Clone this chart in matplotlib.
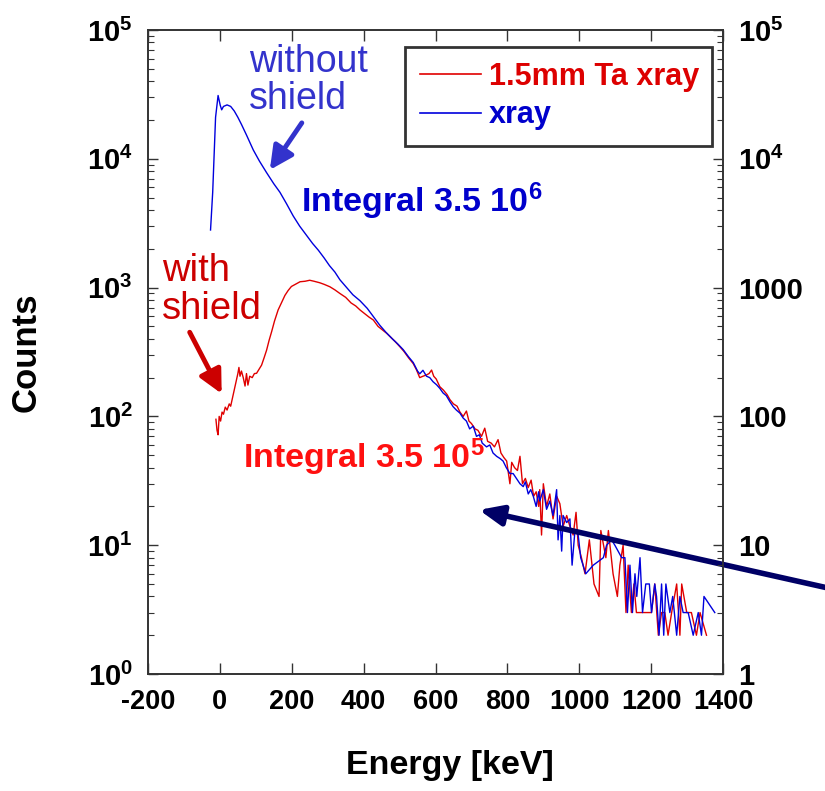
import matplotlib
matplotlib.use("Agg")
import matplotlib.pyplot as plt
from matplotlib.ticker import FixedLocator, LogLocator, NullFormatter

plt.rcParams['font.family'] = ['Liberation Sans', 'DejaVu Sans']
plt.rcParams['mathtext.fontset'] = 'custom'
plt.rcParams['mathtext.rm'] = 'Liberation Sans'
plt.rcParams['mathtext.bf'] = 'Liberation Sans:bold'
plt.rcParams['mathtext.it'] = 'Liberation Sans:italic'

# ---------------- data ----------------
xray_energy = [-26, -20, -12, -5, 1, 5, 10, 20, 30, 40, 50, 60, 74, 93, 110, 130, 150, 167,
               185, 204, 222, 241, 258, 274, 290, 305, 320, 334, 350, 370, 390, 410, 427,
               445, 462, 480, 495, 510, 525, 538, 550, 556, 565, 575, 584, 593, 603, 612,
               621, 630, 640, 649, 658, 668, 677, 686, 695, 705, 714, 722, 730, 742, 751,
               760, 770, 780, 788, 797, 807, 816, 825, 835, 844, 850, 858, 865, 872, 880,
               887,
               890, 900, 909, 918, 927, 937, 941, 946, 951, 955, 965, 974, 980, 988, 997,
               1004, 1018, 1039, 1067, 1076, 1090, 1099, 1118, 1127, 1134, 1141, 1148, 1155,
               1160, 1169, 1176, 1185, 1195, 1201, 1210, 1215, 1222, 1229, 1235, 1241, 1252,
               1260, 1271, 1280, 1289, 1303, 1317, 1331, 1340, 1347, 1377]
xray_counts = [2800, 5500, 21000, 31000, 26000, 24000, 25500, 26200, 25500, 23500, 21000,
               18500, 15300, 11700, 9600, 7800, 6400, 5500, 4500, 3600, 3000, 2550, 2200,
               1950, 1700, 1480, 1320, 1150, 1020, 880, 790, 690, 596, 510, 450, 400, 365,
               330, 290, 262, 225, 214, 228, 205, 200, 186, 176, 165, 152, 145, 130, 119,
               112, 106, 97, 92, 80, 84, 70, 72, 62, 58, 60, 52, 49, 47, 45, 40, 36, 36,
               33, 30, 28.5, 31, 25, 27, 24, 20, 26,
               22, 27, 19, 22, 17, 27, 11, 17, 9, 17, 15, 16, 7, 13, 12,
               8, 6, 7, 8, 10, 11, 10, 8, 8, 3, 7, 3, 6,
               4, 8, 3, 5, 5, 3, 5, 4, 2, 5, 2, 5, 3,
               4, 2, 4, 3, 3, 2, 3, 2, 4, 3]

ta_energy = [-11, -8, -5, -2, 2, 6, 10, 15, 20, 26, 30, 37, 44, 50, 53, 56, 60, 65, 70, 74,
             78, 83, 90, 96, 102, 110, 116, 123, 130, 137, 144, 152, 162, 172, 181, 190,
             199, 210, 223, 237, 250, 262, 278, 290, 306, 320, 334, 350, 365, 378, 390,
             405, 415, 427, 440, 452, 464, 476, 488, 501, 512, 525, 538, 547, 556, 565,
             575, 582, 589, 595, 602, 612, 622, 632, 640, 650, 660, 668, 677, 686, 693,
             700, 710, 718, 728, 737, 745, 755, 764, 774, 782, 790, 798, 807, 812, 820,
             828, 835, 842, 850, 858, 866, 873, 880, 887,
             890, 895, 900, 909, 918, 927, 937, 946, 955, 965, 974, 983, 991, 997, 1006,
             1016, 1028, 1041, 1055, 1060, 1074, 1081, 1094, 1106, 1113, 1122, 1130, 1136,
             1145, 1152, 1159, 1169, 1180, 1192, 1201, 1210, 1220, 1229, 1238, 1247, 1257,
             1271, 1280, 1285, 1299, 1312, 1326, 1336, 1354]
ta_counts = [95, 78, 72, 100, 92, 108, 104, 118, 112, 125, 120, 147, 180, 215, 240, 205, 225,
             200, 172, 215, 175, 205, 200, 215, 216, 235, 250, 285, 327, 390, 455, 550, 670,
             770, 870, 950, 1020, 1060, 1110, 1120, 1140, 1120, 1090, 1060, 1015, 960, 900,
             840, 760, 720, 670, 620, 590, 560, 500, 470, 442, 410, 380, 347, 320, 285, 257,
             230, 200, 205, 210, 215, 229, 205, 195, 170, 160, 148, 135, 125, 120, 108, 100,
             110, 92, 88, 80, 78, 70, 81, 64, 62, 58, 66, 52, 48, 45, 30, 44, 40, 38, 49, 30,
             33, 28, 32, 24, 26, 20,
             27, 12, 30, 20, 25, 16, 24, 21, 14, 17, 14, 12, 18, 10, 8,
             6, 11, 5, 4, 13, 8, 13, 6, 4, 7, 10, 3, 7,
             3, 5, 3, 3, 3, 3, 3, 5, 2, 3, 3, 2, 3,
             5, 2, 5, 3, 3, 2, 3, 2]

x_ticks = [-200, 0, 200, 400, 600, 800, 1000, 1200, 1400]
x_tick_labels = ['-200', '0', '200', '400', '600', '800', '1000', '1200', '1400']
y_ticks = [1, 10, 100, 1000, 1e4, 1e5]
y_left_labels = [r'$\mathbf{10^{0}}$', r'$\mathbf{10^{1}}$', r'$\mathbf{10^{2}}$',
                 r'$\mathbf{10^{3}}$', r'$\mathbf{10^{4}}$', r'$\mathbf{10^{5}}$']
y_right_labels = ['1', '10', '100', '1000', r'$\mathbf{10^{4}}$', r'$\mathbf{10^{5}}$']
series_labels = ['1.5mm Ta xray', 'xray']

# ---------------- figure ----------------
fig = plt.figure(figsize=(8.25, 7.91), dpi=100)
ax = fig.add_axes([0.1794, 0.1479, 0.6970, 0.8142])

RED = '#e00000'
BLUE = '#0000dd'
l1, = ax.plot(ta_energy, ta_counts, color=RED, lw=1.0, label=series_labels[0])
l2, = ax.plot(xray_energy, xray_counts, color=BLUE, lw=1.0, label=series_labels[1])

ax.set_yscale('log')
ax.set_xlim(-200, 1400)
ax.set_ylim(1, 1e5)

ax.xaxis.set_major_locator(FixedLocator(x_ticks))
ax.set_xticklabels(x_tick_labels, fontsize=19.5, fontweight='bold')
ax.yaxis.set_major_locator(FixedLocator(y_ticks))
ax.yaxis.set_minor_locator(LogLocator(base=10, subs=range(2, 10)))
ax.yaxis.set_minor_formatter(NullFormatter())
ax.set_yticklabels(y_left_labels, fontsize=21)

ax.tick_params(axis='x', which='major', direction='in', length=8, width=1,
               top=True, bottom=True, pad=11, colors='#333333', labelcolor='black')
ax.tick_params(axis='y', which='major', direction='in', length=7, width=1,
               left=True, right=False, pad=11, colors='#333333', labelcolor='black')
ax.tick_params(axis='y', which='minor', direction='in', length=4, width=0.8,
               left=True, right=False, colors='#333333')

ax2 = ax.twinx()
ax2.set_yscale('log')
ax2.set_ylim(1, 1e5)
ax2.yaxis.set_major_locator(FixedLocator(y_ticks))
ax2.yaxis.set_minor_locator(LogLocator(base=10, subs=range(2, 10)))
ax2.yaxis.set_minor_formatter(NullFormatter())
ax2.set_yticklabels(y_right_labels, fontsize=21, fontweight='bold')
ax2.tick_params(axis='y', which='major', direction='in', length=7, width=1,
                pad=11, colors='#333333', labelcolor='black')
ax2.tick_params(axis='y', which='minor', direction='in', length=4, width=0.8,
                colors='#333333')

for a in (ax, ax2):
    for s in a.spines.values():
        s.set_color('#333333')
        s.set_linewidth(1.2)

ax.set_xlabel('Energy [keV]', fontsize=24.5, fontweight='bold', va='center')
ax.xaxis.set_label_coords(0.525, -0.1413)
ax.set_ylabel('Counts', fontsize=25, fontweight='bold', va='center')
ax.yaxis.set_label_coords(-0.212, 0.5)

# legend
leg = ax2.legend([l1, l2], series_labels, loc='upper left',
                 bbox_to_anchor=(0.447, 0.829, 0.534, 0.145), mode='expand',
                 fontsize=22, frameon=True, fancybox=False, borderpad=0.5,
                 labelspacing=0.27, handlelength=2.0, handletextpad=0.25,
                 borderaxespad=0.0)
leg.get_frame().set_edgecolor('black')
leg.get_frame().set_linewidth(2.0)
for t, c in zip(leg.get_texts(), ['#dd0000', '#0000cc']):
    t.set_color(c)
    t.set_fontweight('bold')
for h in leg.get_lines():
    h.set_linewidth(1.2)

# annotations
ax.text(80, 78000, 'without\nshield', color='#3333cc', fontsize=27,
        ha='left', va='top', linespacing=1.05)
ax.text(-161, 1850, 'with\nshield', color='#cc0000', fontsize=27.5,
        ha='left', va='top', linespacing=1.05)
ax.text(225, 3850, r'Integral 3.5 10$^{\mathbf{6}}$', color='#0000cc', fontsize=24.5,
        fontweight='bold', ha='left', va='baseline')
ax.text(63, 40, r'Integral 3.5 10$^{\mathbf{5}}$', color='#ff1010', fontsize=24.5,
        fontweight='bold', ha='left', va='baseline')

ax.annotate('', xy=(139, 8200), xytext=(228, 19000),
            arrowprops=dict(arrowstyle='-|>,head_length=0.7,head_width=0.35',
                            color='#3333cc', lw=3.5, mutation_scale=20,
                            shrinkA=0, shrinkB=0))
ax.annotate('', xy=(5, 150), xytext=(-84, 450),
            arrowprops=dict(arrowstyle='-|>,head_length=0.7,head_width=0.35',
                            color='#cc0000', lw=3.5, mutation_scale=20,
                            shrinkA=0, shrinkB=0))
ax.annotate('', xy=(721, 18.8), xytext=(1700, 4.6), annotation_clip=False,
            arrowprops=dict(arrowstyle='-|>,head_length=0.7,head_width=0.3',
                            color='#000066', lw=4, mutation_scale=20,
                            shrinkA=0, shrinkB=0))

fig.savefig('out.png', dpi=100)
